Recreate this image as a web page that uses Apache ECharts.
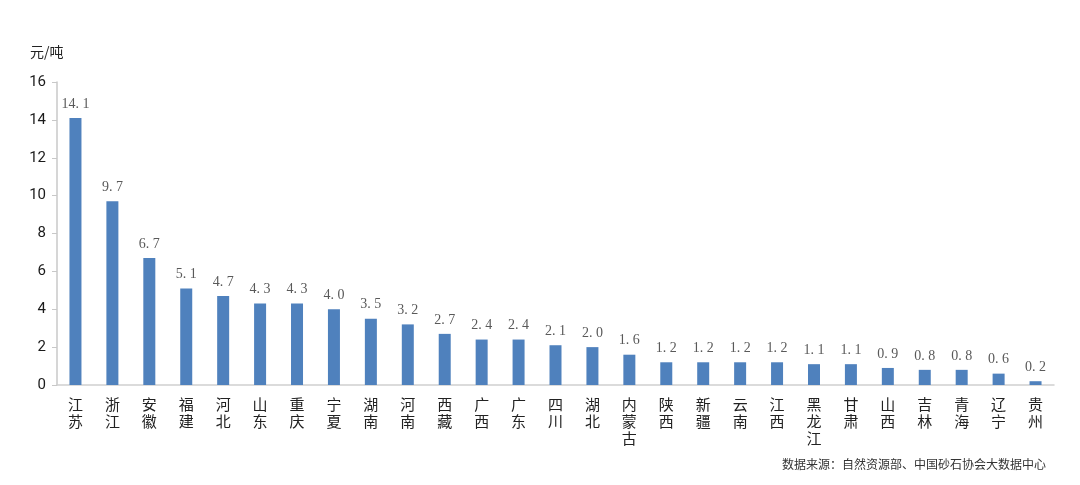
<!DOCTYPE html>
<html>
<head>
<meta charset="utf-8">
<script src="https://cdn.jsdelivr.net/npm/echarts@6/dist/echarts.min.js"></script>
<style>
  html, body { margin: 0; padding: 0; background: #fff; }
  #chart { width: 1080px; height: 485px; }
</style>
</head>
<body>
<div id="chart"></div>
<script>
// 省份
const provinces = ['江苏', '浙江', '安徽', '福建', '河北', '山东', '重庆', '宁夏', '湖南', '河南',
  '西藏', '广西', '广东', '四川', '湖北', '内蒙古', '陕西', '新疆', '云南', '江西',
  '黑龙江', '甘肃', '山西', '吉林', '青海', '辽宁', '贵州']
// 元/吨
const prices = [14.1, 9.7, 6.7, 5.1, 4.7, 4.3, 4.3, 4.0, 3.5, 3.2,
  2.7, 2.4, 2.4, 2.1, 2.0, 1.6, 1.2, 1.2, 1.2, 1.2,
  1.1, 1.1, 0.9, 0.8, 0.8, 0.6, 0.2]
const unitLabel = '元/吨'
const sourceText = '数据来源：自然资源部、中国砂石协会大数据中心'

const cjk = '"Noto Sans CJK SC", "Noto Sans", sans-serif'

const option = {
  animation: false,
  backgroundColor: '#ffffff',
  grid: { left: 57, right: 26, top: 82, bottom: 100 },
  graphic: [
    {
      type: 'text', left: 30, top: 45,
      style: { text: unitLabel, font: '14px ' + cjk, fill: '#222' }
    },
    {
      type: 'text', right: 34, top: 458,
      style: { text: sourceText, font: '12px ' + cjk, fill: '#333' }
    }
  ],
  xAxis: {
    type: 'category',
    data: provinces,
    axisLine: { lineStyle: { color: '#d0d0d0', width: 1.5 } },
    axisTick: { show: false },
    axisLabel: {
      interval: 0,
      margin: 11,
      color: '#222',
      fontSize: 15,
      lineHeight: 17,
      fontFamily: cjk,
      formatter: (v) => v.split('').join('\n')
    }
  },
  yAxis: {
    type: 'value',
    min: 0,
    max: 16,
    interval: 2,
    axisLine: { show: true, lineStyle: { color: '#c8c8c8', width: 1.5 } },
    axisTick: { show: true, length: 5, lineStyle: { color: '#c8c8c8' } },
    splitLine: { show: false },
    axisLabel: {
      margin: 11,
      color: '#1a1a1a',
      fontSize: 15,
      fontFamily: 'Roboto, "Noto Sans", sans-serif'
    }
  },
  series: [{
    type: 'bar',
    data: prices,
    barWidth: 12,
    itemStyle: { color: '#4f81bd' },
    label: {
      show: true,
      position: 'top',
      distance: 7,
      color: '#595959',
      fontSize: 14,
      fontFamily: '"Liberation Serif", "DejaVu Serif", serif',
      formatter: (p) => p.value.toFixed(1).replace('.', '. ')
    }
  }]
}

const myChart = echarts.init(document.getElementById('chart'))
myChart.setOption(option)
</script>
</body>
</html>
